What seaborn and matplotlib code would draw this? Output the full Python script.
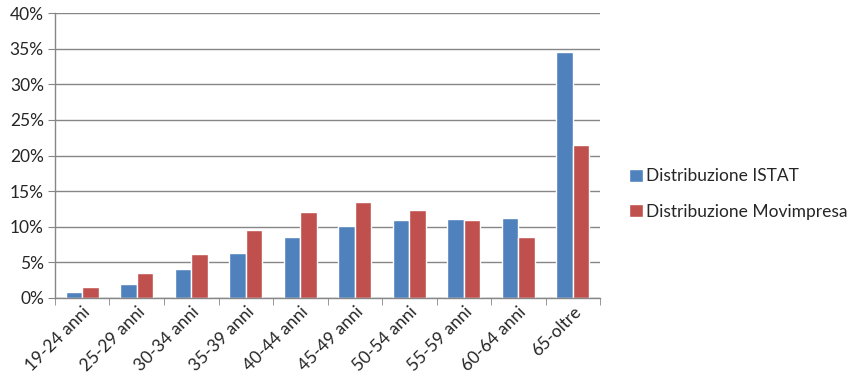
import matplotlib
matplotlib.use("Agg")
import matplotlib.pyplot as plt
import seaborn as sns
import pandas as pd
from matplotlib.ticker import FixedLocator, PercentFormatter

categories = ["19-24 anni", "25-29 anni", "30-34 anni", "35-39 anni", "40-44 anni",
              "45-49 anni", "50-54 anni", "55-59 anni", "60-64 anni", "65-oltre"]
istat = [0.85, 1.95, 4.1, 6.3, 8.6, 10.1, 10.95, 11.1, 11.2, 34.5]
movimpresa = [1.6, 3.5, 6.2, 9.5, 12.1, 13.5, 12.35, 10.95, 8.6, 21.5]
series_names = ["Distribuzione ISTAT", "Distribuzione Movimpresa"]
colors = ["#4F81BD", "#C0504D"]

df = pd.DataFrame({
    "cat": categories * 2,
    "val": istat + movimpresa,
    "serie": [series_names[0]] * len(categories) + [series_names[1]] * len(categories),
})

sns.set_style("white")
plt.rcParams["font.family"] = ["Lato", "DejaVu Sans"]

fig = plt.figure(figsize=(8.53, 3.88), dpi=100)
ax = fig.add_axes([55 / 853, 1 - 298 / 388, (600 - 55) / 853, (298 - 13) / 388])

sns.barplot(data=df, x="cat", y="val", hue="serie", palette=colors, width=0.6,
            saturation=1, ax=ax, legend=True)

ax.set_ylim(0, 40)
ax.set_xlim(-0.5, len(categories) - 0.5)
ax.set_yticks(range(0, 41, 5))
ax.yaxis.set_major_formatter(PercentFormatter(decimals=0))
ax.yaxis.grid(True, color="#868686", linewidth=1)
ax.set_axisbelow(True)
ax.set_xlabel("")
ax.set_ylabel("")

for s in ["top", "right"]:
    ax.spines[s].set_visible(False)
for s in ["left", "bottom"]:
    ax.spines[s].set_color("#868686")
    ax.spines[s].set_linewidth(1)

ax.tick_params(axis="y", length=5, color="#868686", labelsize=12.5, pad=3, left=True)
ax.tick_params(axis="x", which="major", length=0, labelsize=12.5, pad=4)
ax.xaxis.set_minor_locator(FixedLocator([i - 0.5 for i in range(len(categories) + 1)]))
ax.tick_params(axis="x", which="minor", length=5, color="#868686", bottom=True)
plt.setp(ax.get_xticklabels(), rotation=45, ha="right", rotation_mode="anchor")

handles, labels = ax.get_legend_handles_labels()
ax.legend(handles, labels, loc="center left", bbox_to_anchor=(613 / 853, 1 - 194 / 388),
          bbox_transform=fig.transFigure, frameon=False, fontsize=12.5,
          handlelength=0.8, handleheight=0.8, handletextpad=0.2, labelspacing=1.1)

fig.savefig("out.png", dpi=100)
